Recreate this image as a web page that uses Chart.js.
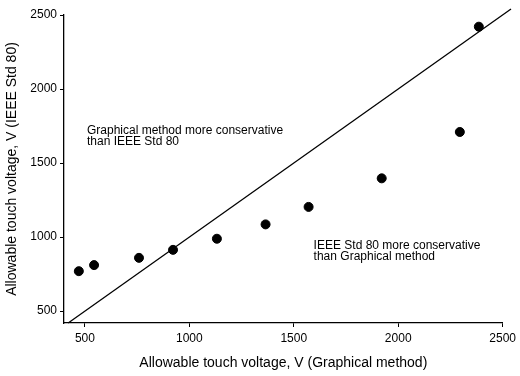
<!DOCTYPE html>
<html>
<head>
<meta charset="utf-8">
<script src="https://cdn.jsdelivr.net/npm/chart.js@4/dist/chart.umd.min.js"></script>
<style>
  html, body { margin: 0; padding: 0; background: #fff; }
  #wrap { width: 520px; height: 376px; }
</style>
</head>
<body>
<div id="wrap"><canvas id="touch"></canvas></div>
<script>
// Allowable touch voltage: graphical method (x) vs IEEE Std 80 (y)
const graphicalV = [471, 544, 759, 922, 1132, 1365, 1571, 1921, 2295, 2386];
const ieeeV      = [770, 811, 860, 914, 989, 1086, 1204, 1397, 1710, 2421];
const equalLine  = [420, 2540]; // y = x reference line endpoints
const xTicks = [500, 1000, 1500, 2000, 2500];
const yTicks = [500, 1000, 1500, 2000, 2500];
const notes = [
  { x: 510, y: 1722, lines: ['Graphical method more conservative', 'than IEEE Std 80'] },
  { x: 1595, y: 944, lines: ['IEEE Std 80 more conservative', 'than Graphical method'] }
];

const FONT = '"Liberation Sans", Arial, sans-serif';

const notesPlugin = {
  id: 'notes',
  afterDatasetsDraw(chart) {
    const { ctx, scales: { x, y } } = chart;
    ctx.save();
    ctx.fillStyle = '#000';
    ctx.font = '12px ' + FONT;
    ctx.textBaseline = 'middle';
    notes.forEach(n => {
      const px = x.getPixelForValue(n.x);
      const py = y.getPixelForValue(n.y);
      n.lines.forEach((t, i) => ctx.fillText(t, px, py + i * 11.5));
    });
    ctx.restore();
  }
};

new Chart(document.getElementById('touch'), {
  type: 'scatter',
  data: {
    datasets: [
      {
        data: graphicalV.map((v, i) => ({ x: v, y: ieeeV[i] })),
        backgroundColor: '#000',
        borderColor: '#000',
        pointRadius: 4.5,
        pointHoverRadius: 4.5
      },
      {
        type: 'line',
        data: equalLine.map(v => ({ x: v, y: v })),
        borderColor: '#000',
        borderWidth: 1.3,
        pointRadius: 0,
        fill: false,
        clip: false
      }
    ]
  },
  options: {
    responsive: true,
    maintainAspectRatio: false,
    animation: false,
    layout: { padding: { top: 15, right: 14, left: 0, bottom: 0 } },
    plugins: { legend: { display: false }, tooltip: { enabled: false } },
    scales: {
      x: {
        type: 'linear',
        min: 400, max: 2500,
        afterBuildTicks: s => { s.ticks = xTicks.map(v => ({ value: v })); },
        afterFit: s => { s.height = 53; },
        grid: { drawOnChartArea: false, tickLength: 4, color: '#000' },
        border: { color: '#000', width: 1.3 },
        ticks: { color: '#000', font: { family: FONT, size: 12 }, padding: 4, maxRotation: 0, callback: v => String(v) },
        title: {
          display: true,
          text: 'Allowable touch voltage, V (Graphical method)',
          color: '#000',
          font: { family: FONT, size: 14 },
          padding: { top: 2 }
        }
      },
      y: {
        type: 'linear',
        min: 420, max: 2500,
        afterBuildTicks: s => { s.ticks = yTicks.map(v => ({ value: v })); },
        afterFit: s => { s.width = 64; },
        grid: { drawOnChartArea: false, tickLength: 4, color: '#000' },
        border: { color: '#000', width: 1.3 },
        ticks: { color: '#000', font: { family: FONT, size: 12 }, padding: 3, callback: v => String(v) },
        title: {
          display: true,
          text: 'Allowable touch voltage, V (IEEE Std 80)',
          color: '#000',
          font: { family: FONT, size: 14 },
          padding: { bottom: 2 }
        }
      }
    }
  },
  plugins: [notesPlugin]
});
</script>
</body>
</html>
